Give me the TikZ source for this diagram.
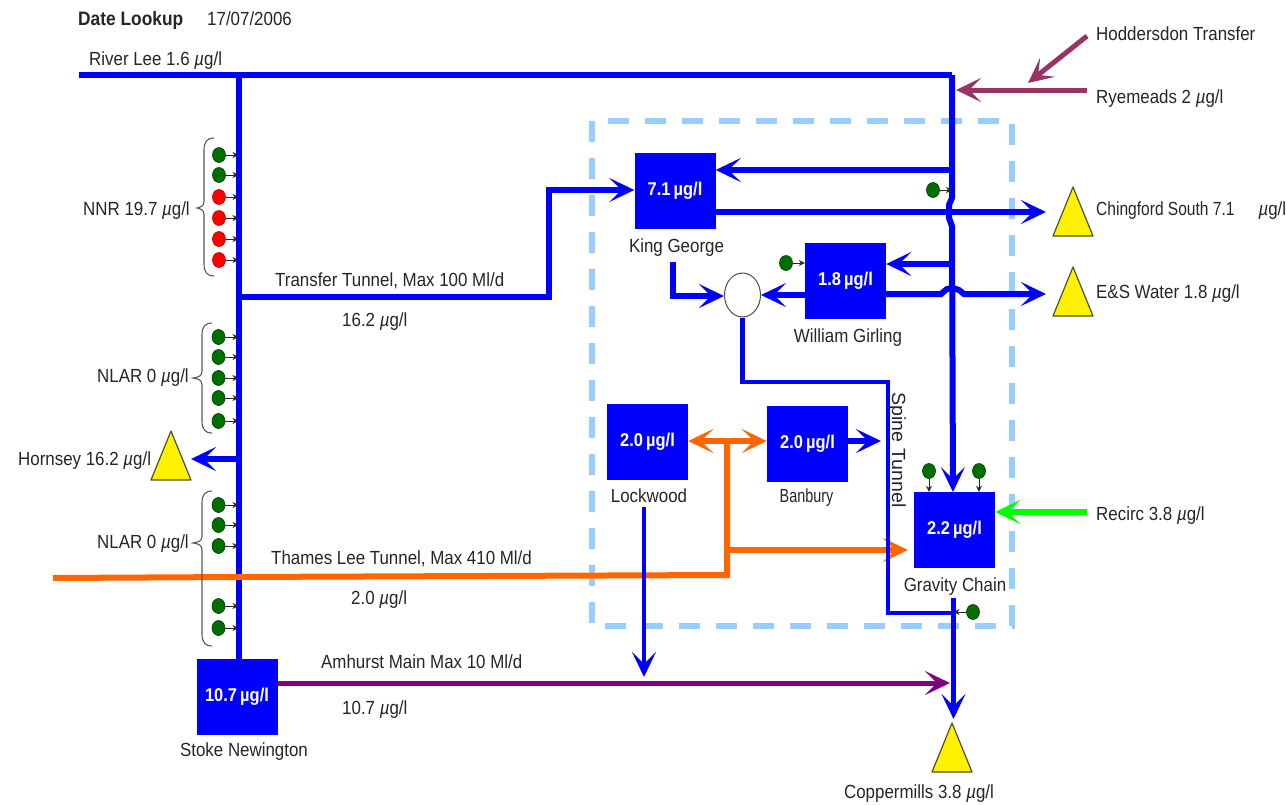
\documentclass[tikz,border=0pt]{standalone}
\usepackage{graphicx}
\usepackage{fontspec}
\setmainfont[FakeStretch=0.89]{Liberation Sans}
\usetikzlibrary{arrows.meta,shapes.geometric,calc}
\definecolor{pipeblue}{HTML}{0000FF}
\definecolor{lightdash}{HTML}{99CCFF}
\definecolor{pipeorange}{HTML}{FF6600}
\definecolor{pipepurple}{HTML}{800080}
\definecolor{pipemaroon}{HTML}{993366}
\definecolor{dotgreen}{HTML}{006F00}
\newcommand{\ug}{\textit{µ}g/l}
\tikzset{
  x=1pt,y=-1pt,
  txt/.style={font=\fontsize{19}{21}\selectfont,text=black!85,inner sep=0,anchor=base west},
  ctxt/.style={font=\fontsize{19}{21}\selectfont,text=black!85,inner sep=0,anchor=base},
  plant/.style={draw=none,fill=pipeblue,minimum width=81pt,minimum height=76pt,inner sep=0,text=white,font=\fontsize{18.5}{20}\selectfont\bfseries},
  pipe/.style={draw=pipeblue,line width=6pt,line join=miter},
  thin pipe/.style={draw=pipeblue,line width=4.5pt},
  flow/.style={-{Stealth[length=25pt,width=24pt,inset=12pt]}},
  dotg/.style={ellipse,draw=black!50!dotgreen,fill=dotgreen,minimum width=13pt,minimum height=15pt,inner sep=0,line width=.6pt},
  dotr/.style={ellipse,draw=black!30!red,fill=red,minimum width=13pt,minimum height=15pt,inner sep=0,line width=.6pt},
  tick/.style={draw=black!85,line width=1pt,-{Stealth[length=6pt,width=6pt]}},
  bracket/.style={draw=black!65,line width=1.1pt},
}
\newcommand{\tri}[3]{% name, apex x, apex y
  \path[draw=black!55!olive,fill=yellow,line width=1.2pt,line join=round] (#2,#3) -- (#2+20,#3+49) -- (#2-20,#3+49) -- cycle;
  \coordinate (#1) at (#2,#3+30);}
\newcommand{\curly}[5]{% x spine, tip x, top, tip y, bottom
  \draw[bracket] (#1+10,#3) .. controls (#1+3,#3) and (#1,#3+4) .. (#1,#3+12) -- (#1,#4-7)
   .. controls (#1,#4-2) and (#1-3,#4-1) .. (#2,#4)
   .. controls (#1-3,#4+1) and (#1,#4+2) .. (#1,#4+7) -- (#1,#5-12)
   .. controls (#1,#5-4) and (#1+3,#5) .. (#1+10,#5);}
\begin{document}
\begin{tikzpicture}
\useasboundingbox (0,0) rectangle (1286,804);
\fill[white] (0,0) rectangle (1286,804);

% dashed works boundary
\draw[lightdash,line width=6pt,dash pattern=on 21pt off 16pt] (592,121) rectangle (1012,626);

% plants
\node[plant] (kg) at (675,190.5) {7.1\,µg/l};
\node[plant] (wg) at (845.5,280.5) {1.8\,µg/l};
\node[plant] (lw) at (647.5,442) {2.0\,µg/l};
\node[plant] (bb) at (807.5,444) {2.0\,µg/l};
\node[plant] (gc) at (954.5,530) {2.2\,µg/l};
\node[plant] (sn) at (237,696.5) {10.7\,µg/l};
\node[ellipse,draw=black!70,fill=white,line width=1pt,minimum width=36pt,minimum height=44pt,inner sep=0] (mix) at (742.5,295) {};

% named junctions
\coordinate (riverw) at (79,75);
\coordinate (rivere) at (952,75);
\coordinate (main) at (238.5,75);
\coordinate (mainb) at (238.5,660);
\coordinate (tt) at (238.5,297);
\coordinate (hj) at (238.5,459);
\coordinate (hend) at (191,459);
\coordinate (k1) at (952,170);
\coordinate (w1) at (952,264);
\coordinate (tt1) at (549,297);
\coordinate (tt2) at (549,190);
\coordinate (kgout) at (673,262);
\coordinate (kgb) at (673,296);
\coordinate (sp1) at (742.5,382);
\coordinate (sp2) at (888,382);
\coordinate (sp3) at (888,613);
\coordinate (cmt) at (953.5,598);
\coordinate (cmb) at (953.5,613);
\coordinate (cmend) at (953.5,719);
\coordinate (lwt) at (644,507);
\coordinate (lwb) at (644,677);
\coordinate (orw) at (53,578);
\coordinate (ore) at (727,575);
\coordinate (ort) at (727,441);
\coordinate (orb) at (727,550);
\coordinate (orend) at (908,550);
\coordinate (bbend) at (881,441);
\coordinate (reci) at (1087,512);
\coordinate (rye) at (1087,90);
\coordinate (ryend) at (956,90);
\coordinate (hod) at (1087,36);
\coordinate (hodend) at (1028,83);
\coordinate (chend) at (1046,212);
\coordinate (esend) at (1046,294);
\coordinate (gcin) at (953,492);

% river and main
\draw[pipe] (riverw) -- (rivere);
\draw[pipe] (main) -- (mainb);
\draw[pipe,flow] (rivere) -- (952,198) -- (949,205) -- (949,218) -- (952,226) -- (gcin);
\draw[pipe,flow] (k1) -- (kg.east |- k1);
\draw[pipe,flow] (w1) -- (wg.east |- w1);
\draw[pipe,flow] (kg.east |- chend) -- (chend);
\draw[pipe,flow] (wg.east |- esend) -- (941,294) -- (947,289) -- (953,288) -- (959,290) -- (964,294) -- (esend);
\draw[pipe,flow] (tt) -- (tt1) -- (tt2) -- (kg.west |- tt2);
\draw[pipe,flow] (kgout) -- (kgb) -- (mix.west |- kgb);
\draw[pipe,flow] (wg.west |- mix) -- (mix.east);
\draw[pipe,flow] (hj) -- (hend);

% orange network
\draw[draw=pipeorange,line width=6pt] (orw) -- (238,577) -- (ore) -- (ort);
\draw[draw=pipeorange,line width=6pt,flow] (ort) -- (lw.east |- ort);
\draw[draw=pipeorange,line width=6pt,flow] (ort) -- (bb.west |- ort);
\draw[draw=pipeorange,line width=6pt,flow] (orb) -- (orend);

% spine tunnel and outflows
\draw[thin pipe,line join=miter] (mix.south) -- (sp1) -- (sp2) -- (sp3) -- (cmb);
\draw[pipe,flow] (bb.east |- bbend) -- (bbend);
\draw[draw=pipepurple,line width=5pt,flow] (sn.east |- 0,683) -- (950,683);
\draw[thin pipe,flow] (lwt) -- (lwb);
\draw[thin pipe,flow] (cmt) -- (cmend);

% other feeds
\draw[draw=green,line width=5.5pt,flow] (reci) -- (gc.east |- reci);
\draw[draw=pipemaroon,line width=5pt,flow] (rye) -- (ryend);
\draw[draw=pipemaroon,line width=5pt,flow] (hod) -- (hodend);

% sinks
\tri{chs}{1073}{187}
\tri{ess}{1073}{267}
\tri{hor}{171}{431}
\tri{cop}{952}{723}

% dots
\foreach \y [count=\i] in {155,175} {\node[dotg] (n\i) at (219,\y) {}; \draw[tick] (n\i.east) -- (n\i -| main);}
\foreach \y [count=\i from 3] in {197,218,239,260} {\node[dotr] (n\i) at (219,\y) {}; \draw[tick] (n\i.east) -- (n\i -| main);}
\foreach \y [count=\i] in {337,357,378,398,421,505,525,546,606,628} {\node[dotg] (l\i) at (218.5,\y) {}; \draw[tick] (l\i.east) -- (l\i -| main);}
\node[dotg] (d1) at (933,190) {};
\draw[tick] (d1.east) -- (d1 -| rivere);
\node[dotg] (d2) at (786,263) {};
\draw[tick] (d2.east) -- (wg.west |- d2);
\node[dotg] (d3) at (929,471) {};
\draw[tick] (d3.south) -- (d3 |- gc.north);
\node[dotg] (d4) at (979,471) {};
\draw[tick] (d4.south) -- (d4 |- gc.north);
\node[dotg] (d5) at (973,612) {};
\draw[tick] (d5.west) -- (d5 -| cmb);

% braces
\curly{204}{197}{138}{208}{276}
\curly{202}{193}{323}{378}{433}
\curly{202}{193}{491}{543}{646}

% labels
\node[txt,font=\fontsize{19.5}{21}\selectfont\bfseries] (t1) at (78,25) {Date Lookup};
\node[txt] (t2) at (207,25) {17/07/2006};
\node[txt] (t3) at (89,65) {River Lee 1.6 \ug};
\node[txt] (t4) at (83,215) {NNR 19.7 \ug};
\node[txt] (t5) at (97,382) {NLAR 0 \ug};
\node[txt] (t6) at (18,465) {Hornsey 16.2 \ug};
\node[txt] (t7) at (97,548) {NLAR 0 \ug};
\node[txt] (t8) at (275,286) {Transfer Tunnel, Max 100 Ml/d};
\node[txt] (t9) at (342,326) {16.2 \ug};
\node[txt] (t10) at (271,564) {Thames Lee Tunnel, Max 410 Ml/d};
\node[txt] (t11) at (351,604) {2.0 \ug};
\node[txt] (t12) at (321,668) {Amhurst Main Max 10 Ml/d};
\node[txt] (t13) at (342,714) {10.7 \ug};
\node[ctxt] (t14) at (244,756) {Stoke Newington};
\node[ctxt] (t15) at (676.5,252) {King George};
\node[ctxt] (t16) at (848,342) {William Girling};
\node[ctxt] (t17) at (649,502) {Lockwood};
\node[ctxt] (t18) at (806.5,502) {\scalebox{.85}[1]{Banbury}};
\node[ctxt] (t19) at (955,591) {Gravity Chain};
\node[font=\fontsize{19}{21}\selectfont,text=black!85,inner sep=0,rotate=-90] (t20) at (897,450) {\scalebox{1.16}[1]{Spine Tunnel}};
\node[txt] (t21) at (1096,40) {Hoddersdon Transfer};
\node[txt] (t22) at (1096,103) {Ryemeads 2 \ug};
\node[txt] (t23) at (1096,215) {\scalebox{.92}[1]{Chingford South 7.1}\hspace{24pt}\ug};
\node[txt] (t24) at (1096,298) {E\&S Water 1.8 \ug};
\node[txt] (t25) at (1096,520) {Recirc 3.8 \ug};
\node[ctxt] (t26) at (919,798) {Coppermills 3.8 \ug};
\end{tikzpicture}
\end{document}
